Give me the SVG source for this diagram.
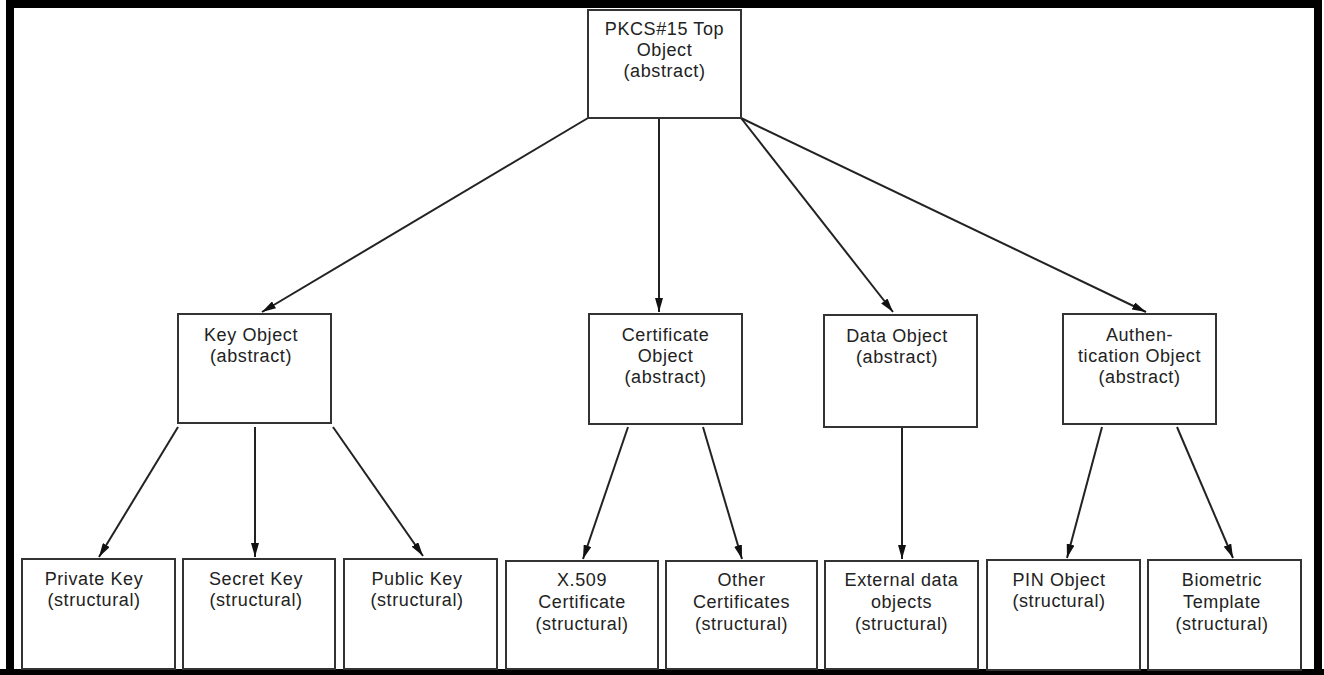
<svg xmlns="http://www.w3.org/2000/svg" width="1324" height="675" viewBox="0 0 1324 675">
  <style>
    .box { fill: #ffffff; stroke: #333333; stroke-width: 2; }
    .lbl { font-family: "Liberation Sans", Arial, sans-serif; font-size: 18px; letter-spacing: 0.6px; fill: #222222; text-anchor: middle; }
    .edge { stroke: #222222; stroke-width: 2; fill: none; marker-end: url(#arrow); }
    .frame { fill: #000000; }
  </style>
  <defs>
    <marker id="arrow" markerUnits="userSpaceOnUse" markerWidth="14" markerHeight="8" refX="14" refY="4" orient="auto">
      <path d="M0,0 L14,4 L0,8 z" fill="#111111"/>
    </marker>
  </defs>

  <rect width="1324" height="675" fill="#ffffff"/>

  <!-- outer frame -->
  <g id="frame">
    <rect class="frame" x="6" y="0" width="1316" height="8"/>
    <rect class="frame" x="6" y="0" width="8" height="675"/>
    <rect class="frame" x="1314" y="0" width="8" height="675"/>
    <rect class="frame" x="0" y="669" width="1324" height="6"/>
  </g>

  <!-- connectors -->
  <g id="connectors">
    <line class="edge" x1="588" y1="118" x2="262" y2="312"/>
    <line class="edge" x1="659" y1="118" x2="659" y2="312"/>
    <line class="edge" x1="741" y1="118" x2="893" y2="312"/>
    <line class="edge" x1="741" y1="118" x2="1146" y2="312"/>
    <line class="edge" x1="178" y1="427" x2="99" y2="557"/>
    <line class="edge" x1="255" y1="427" x2="255" y2="557"/>
    <line class="edge" x1="333" y1="427" x2="423" y2="556"/>
    <line class="edge" x1="628" y1="427" x2="583" y2="559"/>
    <line class="edge" x1="703" y1="427" x2="742" y2="559"/>
    <line class="edge" x1="902" y1="427" x2="902" y2="559"/>
    <line class="edge" x1="1102" y1="427" x2="1067" y2="558"/>
    <line class="edge" x1="1177" y1="427" x2="1233" y2="558"/>
  </g>

  <!-- top level -->
  <g id="top-object">
    <rect class="box" x="588" y="10" width="153" height="108"/>
    <text class="lbl" x="664.5" y="35">PKCS#15 Top</text>
    <text class="lbl" x="664.5" y="56">Object</text>
    <text class="lbl" x="664.5" y="77">(abstract)</text>
  </g>

  <!-- abstract classes -->
  <g id="key-object">
    <rect class="box" x="178" y="314" width="153" height="109"/>
    <text class="lbl" x="251" y="341">Key Object</text>
    <text class="lbl" x="251" y="362">(abstract)</text>
  </g>
  <g id="certificate-object">
    <rect class="box" x="589" y="314" width="153" height="110"/>
    <text class="lbl" x="665.5" y="341">Certificate</text>
    <text class="lbl" x="665.5" y="362">Object</text>
    <text class="lbl" x="665.5" y="383">(abstract)</text>
  </g>
  <g id="data-object">
    <rect class="box" x="824" y="315" width="153" height="112"/>
    <text class="lbl" x="897" y="342">Data Object</text>
    <text class="lbl" x="897" y="363">(abstract)</text>
  </g>
  <g id="authentication-object">
    <rect class="box" x="1063" y="314" width="153" height="110"/>
    <text class="lbl" x="1139.5" y="341">Authen-</text>
    <text class="lbl" x="1139.5" y="362">tication Object</text>
    <text class="lbl" x="1139.5" y="383">(abstract)</text>
  </g>

  <!-- structural classes -->
  <g id="private-key">
    <rect class="box" x="22" y="559" width="153" height="110"/>
    <text class="lbl" x="94" y="585">Private Key</text>
    <text class="lbl" x="94" y="606">(structural)</text>
  </g>
  <g id="secret-key">
    <rect class="box" x="183" y="559" width="152" height="110"/>
    <text class="lbl" x="256" y="585">Secret Key</text>
    <text class="lbl" x="256" y="606">(structural)</text>
  </g>
  <g id="public-key">
    <rect class="box" x="344" y="559" width="153" height="110"/>
    <text class="lbl" x="417" y="585">Public Key</text>
    <text class="lbl" x="417" y="606">(structural)</text>
  </g>
  <g id="x509-certificate">
    <rect class="box" x="506" y="561" width="152" height="108"/>
    <text class="lbl" x="582" y="586">X.509</text>
    <text class="lbl" x="582" y="608">Certificate</text>
    <text class="lbl" x="582" y="630">(structural)</text>
  </g>
  <g id="other-certificates">
    <rect class="box" x="666" y="561" width="151" height="108"/>
    <text class="lbl" x="741.5" y="586">Other</text>
    <text class="lbl" x="741.5" y="608">Certificates</text>
    <text class="lbl" x="741.5" y="630">(structural)</text>
  </g>
  <g id="external-data">
    <rect class="box" x="825" y="561" width="153" height="108"/>
    <text class="lbl" x="901.5" y="586">External data</text>
    <text class="lbl" x="901.5" y="608">objects</text>
    <text class="lbl" x="901.5" y="630">(structural)</text>
  </g>
  <g id="pin-object">
    <rect class="box" x="987" y="560" width="153" height="110"/>
    <text class="lbl" x="1059" y="586">PIN Object</text>
    <text class="lbl" x="1059" y="607">(structural)</text>
  </g>
  <g id="biometric-template">
    <rect class="box" x="1148" y="560" width="153" height="110"/>
    <text class="lbl" x="1222" y="586">Biometric</text>
    <text class="lbl" x="1222" y="608">Template</text>
    <text class="lbl" x="1222" y="630">(structural)</text>
  </g>
</svg>
